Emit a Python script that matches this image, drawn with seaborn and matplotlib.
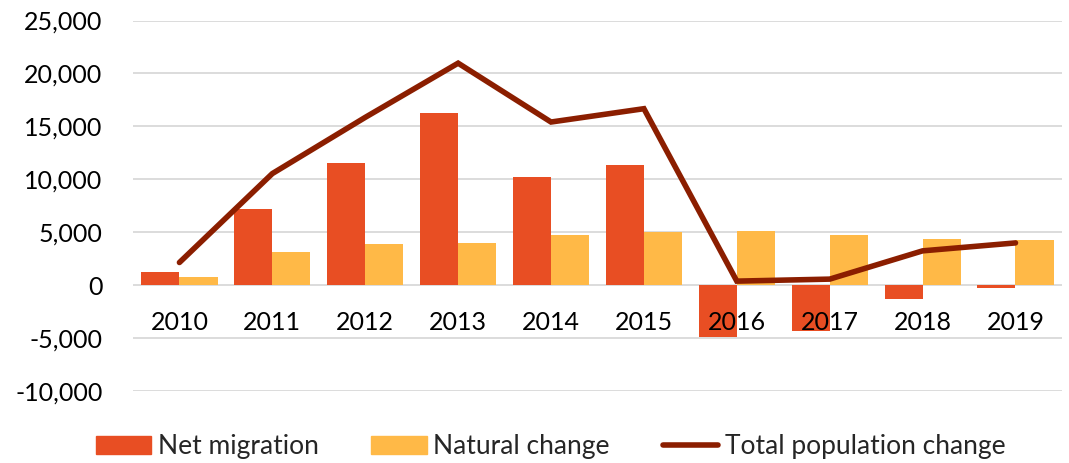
import numpy as np
import pandas as pd
import seaborn as sns
import matplotlib.pyplot as plt
from matplotlib.patches import Patch
from matplotlib.lines import Line2D
from matplotlib.ticker import FuncFormatter

sns.set_theme(style="white")
plt.rcParams['font.family'] = ['Lato', 'DejaVu Sans']

# Valores
years = ['2010', '2011', '2012', '2013', '2014', '2015', '2016', '2017', '2018', '2019']
net_migration = [1200, 7230, 11540, 16290, 10250, 11390, -4870, -4310, -1290, -310]
natural_change = [790, 3110, 3900, 3990, 4720, 5060, 5160, 4720, 4340, 4220]
total_change = [2140, 10540, 15850, 20970, 15410, 16670, 380, 570, 3240, 3990]

c_net = '#E84E23'
c_nat = '#FFB947'
c_tot = '#8B1E00'

df = pd.DataFrame({
    'year': years * 2,
    'value': net_migration + natural_change,
    'serie': ['Net migration'] * len(years) + ['Natural change'] * len(years),
})

fig = plt.figure(figsize=(10.69, 4.63), dpi=100)
ax = fig.add_axes([0.1244, 0.1555, 0.869, 0.8002])

sns.barplot(data=df, x='year', y='value', hue='serie', order=years,
            palette=[c_net, c_nat], width=0.82, gap=0, saturation=1,
            linewidth=0, legend=False, ax=ax, zorder=2)
sns.pointplot(x=years, y=total_change, order=years, color=c_tot, markers='',
              errorbar=None, ax=ax, zorder=3)
for ln in ax.lines:
    ln.set_linewidth(4)
    ln.set_solid_capstyle('round')
    ln.set_solid_joinstyle('miter')

ax.set_ylim(-10000, 25000)
ax.set_xlim(-0.5, len(years) - 0.5)
ax.set_yticks(np.arange(-10000, 25001, 5000))
ax.yaxis.set_major_formatter(FuncFormatter(lambda v, p: f'{int(v):,}'))
ax.grid(axis='y', color='#D9D9D9', linewidth=1.3, zorder=0)
ax.set_axisbelow(True)
for s in ax.spines.values():
    s.set_visible(False)
ax.tick_params(axis='y', length=0, pad=22, labelsize=18, labelcolor='black')
ax.set_xticks([])
ax.set_xlabel('')
ax.set_ylabel('')

# etiquetas de años junto al eje cero
for i, y in enumerate(years):
    ax.text(i, -2450, y, ha='center', va='top', fontsize=18, color='black', zorder=4)

handles = [Patch(color=c_net, label='Net migration'),
           Patch(color=c_nat, label='Natural change'),
           Line2D([0], [0], color=c_tot, lw=4, solid_capstyle='round',
                  label='Total population change')]
fig.legend(handles=handles, loc='center', bbox_to_anchor=(0.515, 0.035), ncol=3,
           frameon=False, fontsize=19, handlelength=2.1, handletextpad=0.25,
           columnspacing=2.0, borderaxespad=0)

fig.savefig('out.png', dpi=100)
